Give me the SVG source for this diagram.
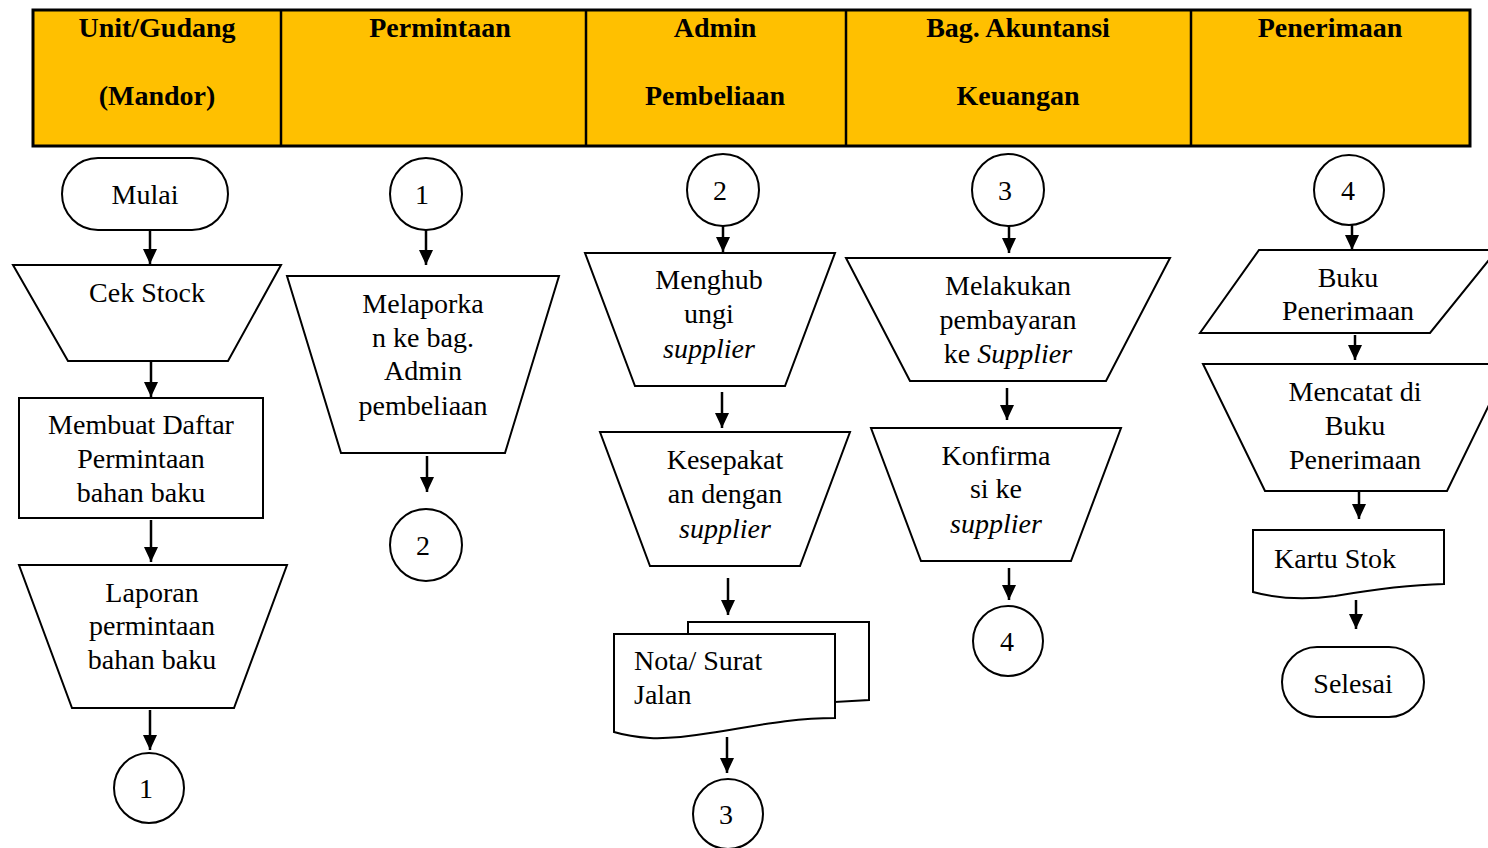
<svg xmlns="http://www.w3.org/2000/svg" width="1488" height="848" viewBox="0 0 1488 848">
<style>
.s{fill:#fff;stroke:#000;stroke-width:2}
.t{font-family:"Liberation Serif","Times New Roman",serif;font-size:28px;fill:#000;text-anchor:middle}
.l{text-anchor:start}
.h{font-family:"Liberation Serif","Times New Roman",serif;font-size:28px;font-weight:bold;fill:#000;text-anchor:middle}
.c line{stroke:#000;stroke-width:2.5;marker-end:url(#ah)}
</style>
<defs>
<marker id="ah" markerUnits="userSpaceOnUse" markerWidth="16" markerHeight="16" refX="15" refY="7" orient="auto">
<path d="M0,0 L15,7 L0,14 Z" fill="#000"/>
</marker>
</defs>
<rect width="1488" height="848" fill="#fff"/>
<g id="header">
<rect x="33" y="10" width="1437" height="136" fill="#FFC000" stroke="#000" stroke-width="3"/>
<line x1="281" y1="10" x2="281" y2="146" stroke="#000" stroke-width="2.5"/>
<line x1="586" y1="10" x2="586" y2="146" stroke="#000" stroke-width="2.5"/>
<line x1="846" y1="10" x2="846" y2="146" stroke="#000" stroke-width="2.5"/>
<line x1="1191" y1="10" x2="1191" y2="146" stroke="#000" stroke-width="2.5"/>
<text class="h" x="157" y="37">Unit/Gudang</text>
<text class="h" x="157" y="105">(Mandor)</text>
<text class="h" x="440" y="37">Permintaan</text>
<text class="h" x="715" y="37">Admin</text>
<text class="h" x="715" y="105">Pembeliaan</text>
<text class="h" x="1018" y="37">Bag. Akuntansi</text>
<text class="h" x="1018" y="105">Keuangan</text>
<text class="h" x="1330" y="37">Penerimaan</text>
</g>
<g class="c" id="connectors">
<line x1="150" y1="230" x2="150" y2="264"/>
<line x1="151" y1="361" x2="151" y2="397"/>
<line x1="151" y1="520" x2="151" y2="562"/>
<line x1="150" y1="710" x2="150" y2="750"/>
<line x1="426" y1="230" x2="426" y2="265"/>
<line x1="427" y1="456" x2="427" y2="492"/>
<line x1="723" y1="226" x2="723" y2="252"/>
<line x1="722" y1="392" x2="722" y2="428"/>
<line x1="728" y1="578" x2="728" y2="615"/>
<line x1="727" y1="737" x2="727" y2="773"/>
<line x1="1009" y1="226" x2="1009" y2="253"/>
<line x1="1007" y1="388" x2="1007" y2="420"/>
<line x1="1009" y1="568" x2="1009" y2="600"/>
<line x1="1352" y1="225" x2="1352" y2="250"/>
<line x1="1355" y1="335" x2="1355" y2="360"/>
<line x1="1359" y1="492" x2="1359" y2="519"/>
<line x1="1356" y1="600" x2="1356" y2="629"/>
</g>
<g id="mulai"><rect class="s" x="62" y="158" width="166" height="72" rx="36"/><text class="t" x="145" y="204">Mulai</text></g>
<g id="cekstock"><path class="s" d="M13,265 H281 L228,361 H68 Z"/><text class="t" x="147" y="302">Cek Stock</text></g>
<g id="daftar"><rect class="s" x="19" y="398" width="244" height="120"/><text class="t" x="141" y="434">Membuat Daftar</text><text class="t" x="141" y="468">Permintaan</text><text class="t" x="141" y="502">bahan baku</text></g>
<g id="laporan"><path class="s" d="M19,565 H287 L234,708 H72 Z"/><text class="t" x="152" y="602">Laporan</text><text class="t" x="152" y="635">permintaan</text><text class="t" x="152" y="669">bahan baku</text></g>
<g id="c1a"><circle class="s" cx="149" cy="788" r="35"/><text class="t" x="146" y="798">1</text></g>
<g id="c1b"><circle class="s" cx="426" cy="194" r="36"/><text class="t" x="422" y="204">1</text></g>
<g id="melaporkan"><path class="s" d="M287,276 H559 L505,453 H341 Z"/><text class="t" x="423" y="313">Melaporka</text><text class="t" x="423" y="347">n ke bag.</text><text class="t" x="423" y="380">Admin</text><text class="t" x="423" y="415">pembeliaan</text></g>
<g id="c2a"><circle class="s" cx="426" cy="545" r="36"/><text class="t" x="423" y="555">2</text></g>
<g id="c2b"><circle class="s" cx="723" cy="190" r="36"/><text class="t" x="720" y="200">2</text></g>
<g id="menghubungi"><path class="s" d="M585,253 H835 L785,386 H635 Z"/><text class="t" x="709" y="289">Menghub</text><text class="t" x="709" y="323">ungi</text><text class="t" x="709" y="358" font-style="italic">supplier</text></g>
<g id="kesepakatan"><path class="s" d="M600,432 H850 L800,566 H650 Z"/><text class="t" x="725" y="469">Kesepakat</text><text class="t" x="725" y="503">an dengan</text><text class="t" x="725" y="538" font-style="italic">supplier</text></g>
<g id="nota"><path class="s" d="M688,622 H869 V700 L835,702 V634 H688 Z"/><path class="s" d="M614,634 H835 V718 C790,718 750,727 710,733 C685,737 668,739 650,738 C635,737 624,735 614,732 Z"/><text class="t l" x="634" y="670">Nota/ Surat</text><text class="t l" x="634" y="704">Jalan</text></g>
<g id="c3a"><circle class="s" cx="728" cy="814" r="35"/><text class="t" x="726" y="824">3</text></g>
<g id="c3b"><circle class="s" cx="1008" cy="190" r="36"/><text class="t" x="1005" y="200">3</text></g>
<g id="pembayaran"><path class="s" d="M846,258 H1170 L1106,381 H910 Z"/><text class="t" x="1008" y="295">Melakukan</text><text class="t" x="1008" y="329">pembayaran</text><text class="t" x="1008" y="363">ke <tspan font-style="italic">Supplier</tspan></text></g>
<g id="konfirmasi"><path class="s" d="M871,428 H1121 L1071,561 H921 Z"/><text class="t" x="996" y="465">Konfirma</text><text class="t" x="996" y="498">si ke</text><text class="t" x="996" y="533" font-style="italic">supplier</text></g>
<g id="c4a"><circle class="s" cx="1008" cy="641" r="35"/><text class="t" x="1007" y="651">4</text></g>
<g id="c4b"><circle class="s" cx="1349" cy="190" r="35"/><text class="t" x="1348" y="200">4</text></g>
<g id="bukupenerimaan"><path class="s" d="M1259,250 H1497 L1430,333 H1200 Z"/><text class="t" x="1348" y="287">Buku</text><text class="t" x="1348" y="320">Penerimaan</text></g>
<g id="mencatat"><path class="s" d="M1203,364 H1509 L1447,491 H1265 Z"/><text class="t" x="1355" y="401">Mencatat di</text><text class="t" x="1355" y="435">Buku</text><text class="t" x="1355" y="469">Penerimaan</text></g>
<g id="kartustok"><path class="s" d="M1253,530 H1444 V584 C1405,585 1370,590 1335,596 C1305,600 1275,598 1253,592 Z"/><text class="t l" x="1274" y="568">Kartu Stok</text></g>
<g id="selesai"><rect class="s" x="1282" y="647" width="142" height="70" rx="35"/><text class="t" x="1353" y="693">Selesai</text></g>
</svg>
